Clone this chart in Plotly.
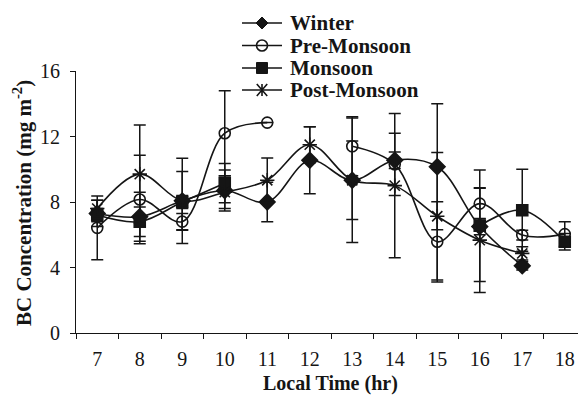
import plotly.graph_objects as go

# ---------------- data ----------------
hours = [7, 8, 9, 10, 11, 12, 13, 14, 15, 16, 17, 18]
tick_labels = [str(h) for h in hours]
y_ticks = [0, 4, 8, 12, 16]

winter = [7.3, 7.1, 8.07, 8.7, 8.0, 10.55, 9.33, 10.55, 10.15, 6.5, 4.1, None]
winter_err = [0.8, 1.5, 1.8, 1.25, 1.2, 2.05, 2.4, 0.5, 3.85, 0.5, 0.25, 0]

pre_monsoon = [6.42, 8.15, 6.8, 12.2, 12.85, None, 11.4, 10.3, 5.57, 7.9, 5.98, 6.04]
pre_monsoon_err = [1.95, 2.7, 0.5, 2.6, 0, 0, 1.8, 1.9, 2.45, 0.94, 0.3, 0.76]

monsoon = [7.2, 6.8, 8.0, 9.15, None, None, None, None, None, 6.55, 7.5, 5.57]
monsoon_err = [0.4, 0.9, 0.4, 1.2, 0, 0, 0, 0, 0, 3.4, 2.5, 0.5]

post_monsoon = [7.6, 9.7, 8.07, 8.6, 9.33, 11.5, 9.33, 9.0, 7.13, 5.67, 4.86, None]
post_monsoon_err = [0.5, 3.0, 2.6, 1.0, 1.35, 1.1, 3.8, 4.4, 3.9, 3.2, 0.4, 0]

names = ["Winter", "Pre-Monsoon", "Monsoon", "Post-Monsoon"]

# ---------------- style ----------------
INK = "#151515"
FONT = "Liberation Serif"
symbols = {"Winter": ("diamond", 12), "Pre-Monsoon": ("circle-open", 11),
           "Monsoon": ("square", 11), "Post-Monsoon": ("asterisk-open", 12)}

# plot area geometry (pixels) for legend placement
W, H = 578, 396
L, R, T, B = 76, 0, 71, 63
PW, PH = W - L - R, H - T - B

def px2x(px):
    return (px - L) / PW

def py2y(py):
    return (H - B - py) / PH

fig = go.Figure()
data = [(winter, winter_err), (pre_monsoon, pre_monsoon_err),
        (monsoon, monsoon_err), (post_monsoon, post_monsoon_err)]
for name, (vals, errs) in zip(names, data):
    sym, size = symbols[name]
    fig.add_trace(go.Scatter(
        x=hours, y=vals, name=name, mode="lines+markers",
        line=dict(shape="spline", smoothing=1.0, color=INK, width=1.6),
        marker=dict(symbol=sym, size=size, color=INK,
                    line=dict(color=INK, width=1.6)),
        error_y=dict(type="data", array=errs, visible=True, color=INK,
                     thickness=1.5, width=6),
        connectgaps=False, showlegend=False, cliponaxis=False,
    ))

# ---------------- manual legend ----------------
shapes = []
annotations = []
rows_py = [23, 45.5, 68, 90]
lx0, lx1, mx, tx = 242, 282, 262, 288
kinds = ["diamond", "circle", "square", "asterisk"]
for name, kind, py in zip(names, kinds, rows_py):
    y = py2y(py)
    shapes.append(dict(type="line", xref="paper", yref="paper",
                       x0=px2x(lx0), x1=px2x(lx1), y0=y, y1=y,
                       line=dict(color=INK, width=1.6)))
    s = 6
    if kind == "diamond":
        path = "M {a},{b} L {c},{d} L {a},{e} L {f},{d} Z".format(
            a=px2x(mx), b=py2y(py - s), c=px2x(mx + s), d=y,
            e=py2y(py + s), f=px2x(mx - s))
        shapes.append(dict(type="path", xref="paper", yref="paper", path=path,
                           fillcolor=INK, line=dict(color=INK, width=1)))
    elif kind == "circle":
        r = 5.5
        shapes.append(dict(type="circle", xref="paper", yref="paper",
                           x0=px2x(mx - r), x1=px2x(mx + r),
                           y0=py2y(py + r), y1=py2y(py - r),
                           fillcolor="rgba(0,0,0,0)", line=dict(color=INK, width=1.6)))
    elif kind == "square":
        r = 5.5
        shapes.append(dict(type="rect", xref="paper", yref="paper",
                           x0=px2x(mx - r), x1=px2x(mx + r),
                           y0=py2y(py + r), y1=py2y(py - r),
                           fillcolor=INK, line=dict(color=INK, width=1)))
    else:
        r = 6
        path = ("M {a},{b} L {a},{c} M {d},{b} L {e},{c} M {d},{c} L {e},{b}").format(
            a=px2x(mx), b=py2y(py - r), c=py2y(py + r),
            d=px2x(mx - r * 0.87), e=px2x(mx + r * 0.87))
        shapes.append(dict(type="path", xref="paper", yref="paper", path=path,
                           line=dict(color=INK, width=1.6)))
    annotations.append(dict(text="<b>%s</b>" % name, xref="paper", yref="paper",
                            x=px2x(tx), y=y, xanchor="left", yanchor="middle",
                            showarrow=False,
                            font=dict(family=FONT, size=21, color=INK)))

# axis titles
annotations.append(dict(text="<b>Local Time (hr)</b>", xref="paper", yref="paper",
                        x=px2x(330), y=py2y(383), xanchor="center", yanchor="middle",
                        showarrow=False, font=dict(family=FONT, size=20, color=INK)))
annotations.append(dict(text="<b>BC Concentration (mg m<sup>-2</sup>)</b>",
                        xref="paper", yref="paper", textangle=-90,
                        x=px2x(22), y=py2y(203), xanchor="center", yanchor="middle",
                        showarrow=False, font=dict(family=FONT, size=21, color=INK)))

fig.update_layout(
    width=W, height=H,
    margin=dict(l=L, r=R, t=T, b=B, pad=0),
    paper_bgcolor="white", plot_bgcolor="white",
    font=dict(family=FONT, size=20, color=INK),
    shapes=shapes, annotations=annotations,
    showlegend=False,
)
fig.update_xaxes(
    range=[6.5, 6.5 + PW / 42.5], tickmode="array", tickvals=hours, ticktext=tick_labels,
    ticks="", showgrid=False, zeroline=False, showline=True, linecolor=INK, linewidth=1.2,
    ticklabelstandoff=8,
    minor=dict(tickmode="array", tickvals=[h - 0.5 for h in hours], ticks="outside",
               ticklen=5, tickwidth=1.2, tickcolor=INK, showgrid=False),
    tickfont=dict(family=FONT, size=20, color=INK),
)
fig.update_yaxes(
    range=[0, 16], tickmode="array", tickvals=y_ticks,
    ticks="outside", ticklen=5, tickwidth=1.2, tickcolor=INK,
    showgrid=False, zeroline=False, showline=True, linecolor=INK, linewidth=1.2,
    ticklabelstandoff=6,
    tickfont=dict(family=FONT, size=20, color=INK),
)

fig.write_html("out.html")
